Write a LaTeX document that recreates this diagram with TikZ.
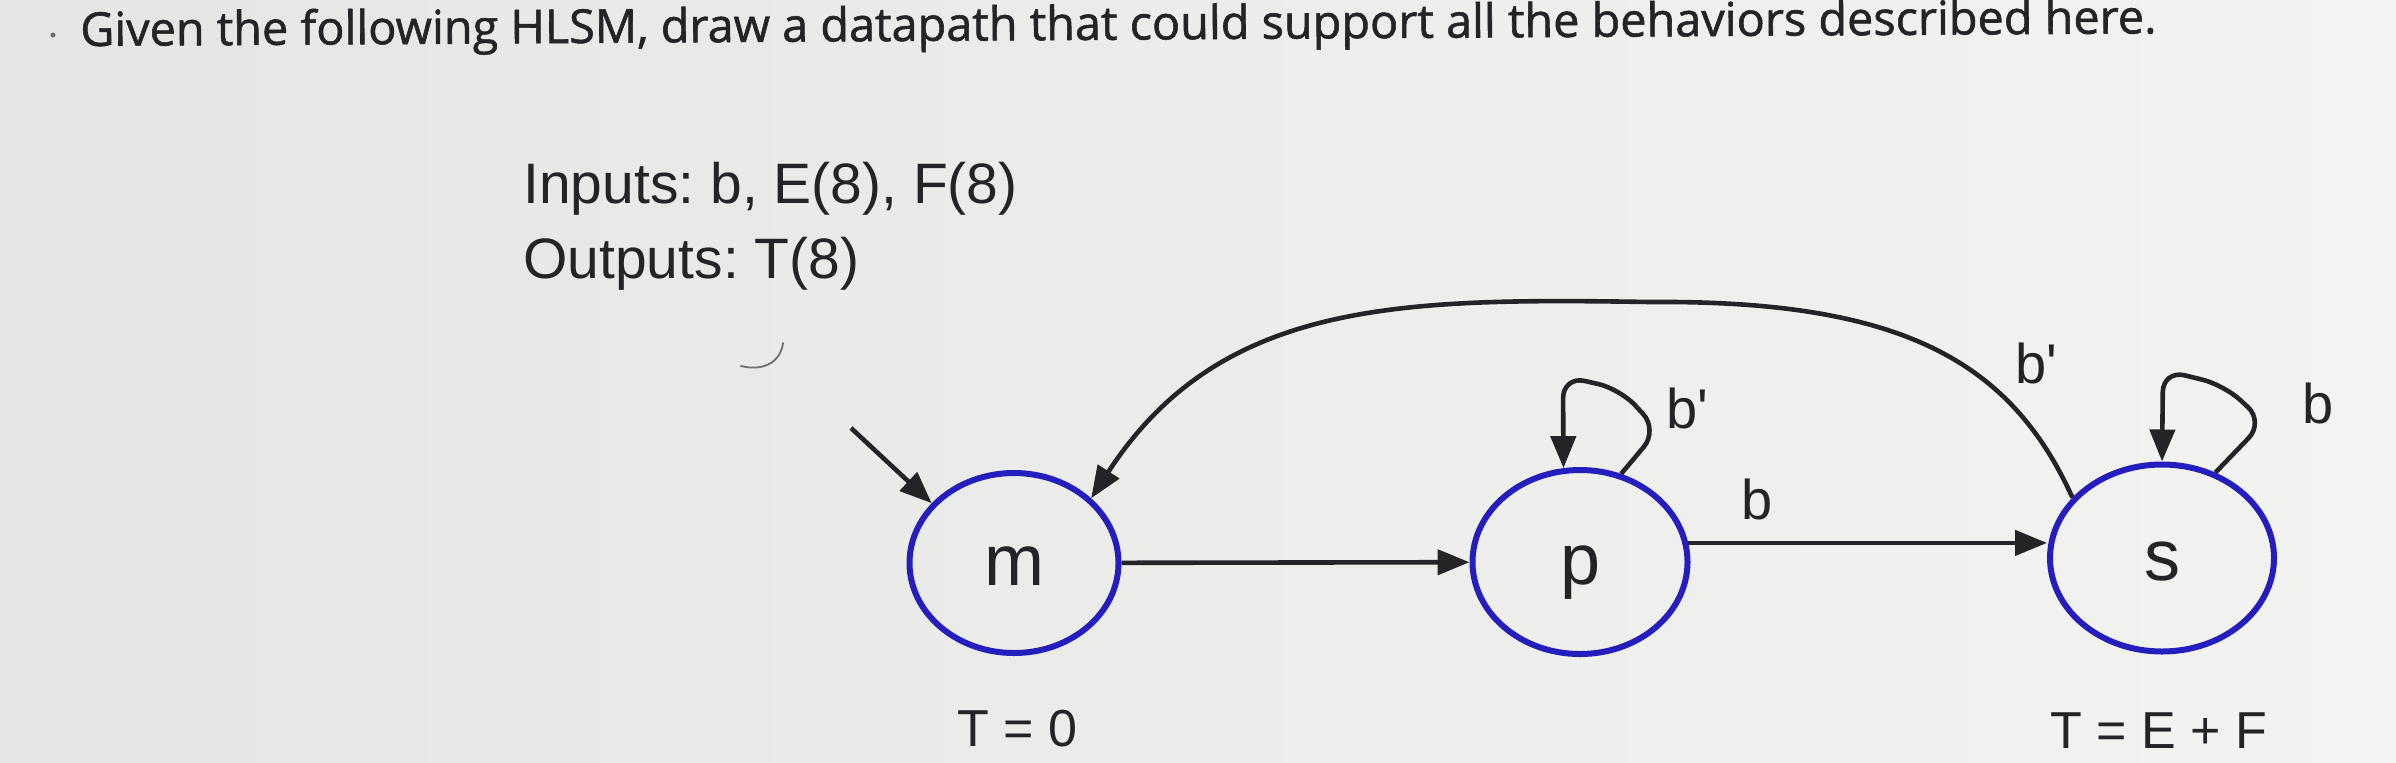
\documentclass[tikz,border=0pt]{standalone}
\usepackage{fontspec}
\setmainfont{Liberation Sans}
\newfontfamily\titlefont[FakeBold=1.2]{Open Sans}
\usetikzlibrary{arrows.meta,shapes.geometric}
\definecolor{bgL}{RGB}{229,229,227}
\definecolor{bgR}{RGB}{243,243,241}
\definecolor{ink}{RGB}{36,36,38}
\definecolor{stateblue}{RGB}{36,30,190}
\definecolor{pencil}{RGB}{110,110,112}
\frenchspacing
\begin{document}
\begin{tikzpicture}[x=0.5pt,y=-0.5pt,
  state/.style={ellipse, draw=stateblue, line width=3pt, inner sep=0pt,
    font=\fontsize{36}{40}\selectfont, text=ink, text height=22pt, text depth=0pt},
  arr/.style={draw=ink, line width=2.3pt, -{Triangle[length=16pt,width=12.5pt]}},
  loopedge/.style={arr, rounded corners=11pt},
  lbl/.style={text=ink, font=\fontsize{28}{32}\selectfont, inner sep=0pt},
  actlbl/.style={text=ink, font=\fontsize{26}{30}\selectfont, inner sep=0pt},
  iolbl/.style={text=ink, font=\fontsize{28.5}{34}\selectfont, inner sep=0pt, anchor=base west},
  titlelbl/.style={text=ink, font=\titlefont\fontsize{23.4}{28}\selectfont, inner sep=0pt, anchor=base west},
]
% background
\useasboundingbox (0,0) rectangle (2396,762);
\shade[left color=bgL, right color=bgR] (0,0) rectangle (2396,762);

% title and stray marks
\node[titlelbl, rotate=0.35] (title) at (80,46) {Given the following HLSM, draw a datapath that could support all the behaviors described here.};
\fill[pencil] (53,35) circle (2.5);
\draw[pencil, line width=0.9pt, line cap=round] (783,343) .. controls (781,360) and (766,372) .. (741,366);

% inputs / outputs
\node[iolbl] (inputs) at (523,203) {Inputs: b, E(8), F(8)};
\node[iolbl] (outputs) at (523,278) {Outputs: T(8)};

% states
\node[state, minimum width=104.5pt, minimum height=90pt] (m) at (1014,563) {m};
\node[state, minimum width=107.5pt, minimum height=92pt] (p) at (1580,562) {p};
\node[state, minimum width=112pt, minimum height=93.5pt] (s) at (2162,558) {s};

% state actions
\node[actlbl] (actm) at (1017,729) {T = 0};
\node[actlbl] (acts) at (2159,731) {T = E + F};

% initial arrow
\coordinate (init) at (851,428);
\draw[arr] (init) -- (m.144);

% transitions
\draw[arr] (m) -- (p);
\draw[arr] (p.10) -- (p.10 -| s.west);
\draw[arr] (s.146) .. controls (2010,360) and (1900,300) .. (1650,302)
               .. controls (1400,298) and (1220,300) .. (m.40);
\draw[loopedge] (p.65) -- (1658,430) -- (1620,389) -- (1563,376) -- (p.100);
\draw[loopedge] (s.58) -- (2264,422) -- (2224,385) -- (2163,370) -- (s.north);

% transition labels
\node[lbl] (lpp) at (1687,408) {b\textquotesingle};
\node[lbl] (lps) at (1757,499) {b};
\node[lbl] (lsm) at (2036,363) {b\textquotesingle};
\node[lbl] (lss) at (2318,403) {b};
\end{tikzpicture}
\end{document}
